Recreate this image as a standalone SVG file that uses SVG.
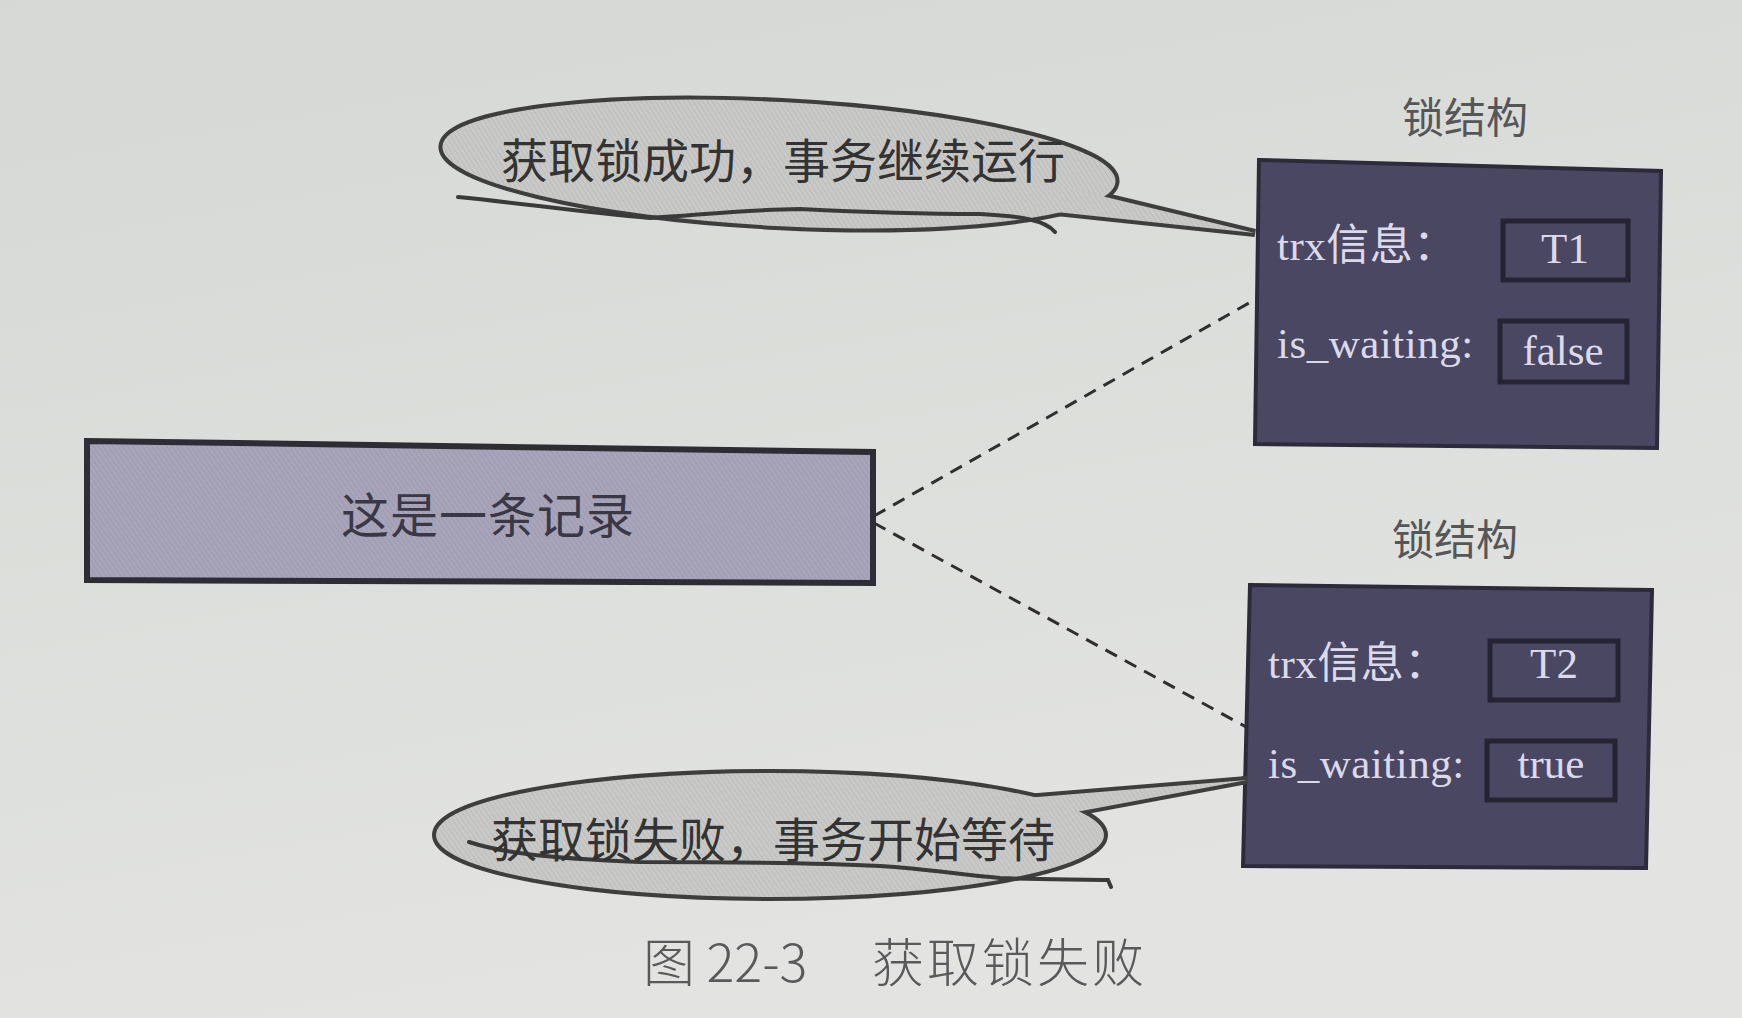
<svg xmlns="http://www.w3.org/2000/svg" width="1742" height="1018" viewBox="0 0 1742 1018">
  <defs>
    <linearGradient id="bg" x1="0" y1="0" x2="0.3" y2="1">
      <stop offset="0" stop-color="#d5d8d4"/>
      <stop offset="1" stop-color="#e3e4e1"/>
    </linearGradient>
    <pattern id="hatchGrey" width="4" height="4" patternUnits="userSpaceOnUse" patternTransform="rotate(-35)">
      <rect width="4" height="4" fill="#c9cac7"/>
      <line x1="0" y1="0" x2="0" y2="4" stroke="#b3b4b1" stroke-width="1.2"/>
    </pattern>
    <pattern id="hatchRec" width="4" height="4" patternUnits="userSpaceOnUse" patternTransform="rotate(-35)">
      <rect width="4" height="4" fill="#a8a5ba"/>
      <line x1="0" y1="0" x2="0" y2="4" stroke="#9592a8" stroke-width="1.2"/>
    </pattern>
  </defs>
  <style>
    .cjk { font-family: "Noto Sans CJK SC", "Noto Sans", sans-serif; }
    .title { font-family: "Noto Sans CJK SC", sans-serif; font-size: 42px; fill: #555658; text-anchor: middle; }
    .lock { fill: #4a4763; stroke: #2d2b3b; stroke-width: 4; }
    .field { fill: none; stroke: #262433; stroke-width: 5; }
    .ltxt { font-family: "Liberation Serif", "Noto Sans CJK SC", serif; font-size: 43px; fill: #dcdaea; letter-spacing: 0.5px; }
    .vtxt { font-family: "Liberation Serif", serif; font-size: 43px; fill: #dcdaea; text-anchor: middle; }
    .bubble-stroke { fill: none; stroke: #3e3e3e; stroke-width: 8; }
    .bubble-fill { fill: url(#hatchGrey); stroke: none; }
    .btxt { font-family: "Noto Sans CJK SC", sans-serif; font-size: 47px; fill: #333333; text-anchor: middle; }
    .scribble { fill: none; stroke: #3a3a3a; stroke-width: 4; stroke-linecap: round; }
    .conn { fill: none; stroke: #2f2f2f; stroke-width: 3; stroke-dasharray: 13 9; }
    .cap { font-family: "Noto Sans CJK SC", sans-serif; font-size: 52px; fill: #58595b; font-weight: 300; }
  </style>

  <rect x="0" y="0" width="1742" height="1018" fill="url(#bg)"/>

  <g id="connectors">
    <line class="conn" x1="874" y1="516" x2="1256" y2="299"/>
    <line class="conn" x1="874" y1="523" x2="1248" y2="728"/>
  </g>

  <g id="record">
    <polygon points="87,441 873,452 873,583 87,580" fill="url(#hatchRec)" stroke="#2e2d35" stroke-width="6"/>
    <text class="cjk" x="488" y="533" font-size="48" fill="#3a3845" text-anchor="middle" letter-spacing="1">这是一条记录</text>
  </g>

  <g id="lock1">
    <text class="title" x="1465" y="133">锁结构</text>
    <polygon class="lock" points="1259,160 1661,171 1657,448 1255,444"/>
    <text class="ltxt" x="1277" y="260">trx信息：</text>
    <rect class="field" x="1503" y="221" width="125" height="59"/>
    <text class="vtxt" x="1565" y="263">T1</text>
    <text class="ltxt" x="1277" y="358">is_waiting:</text>
    <rect class="field" x="1500" y="321" width="127" height="61"/>
    <text class="vtxt" x="1563" y="365">false</text>
  </g>

  <g id="lock2">
    <text class="title" x="1455" y="555">锁结构</text>
    <polygon class="lock" points="1250,585 1652,590 1646,868 1243,866"/>
    <text class="ltxt" x="1268" y="678">trx信息：</text>
    <rect class="field" x="1490" y="641" width="128" height="59"/>
    <text class="vtxt" x="1554" y="678">T2</text>
    <text class="ltxt" x="1268" y="778">is_waiting:</text>
    <rect class="field" x="1487" y="741" width="128" height="59"/>
    <text class="vtxt" x="1551" y="778">true</text>
  </g>

  <g id="callout-success">
    <ellipse class="bubble-stroke" cx="779" cy="164" rx="337" ry="62" transform="rotate(3 779 164)"/>
    <polygon class="bubble-stroke" points="1060,186 1255,233 1000,206"/>
    <ellipse class="bubble-fill" cx="779" cy="164" rx="337" ry="62" transform="rotate(3 779 164)"/>
    <polygon class="bubble-fill" points="1060,186 1255,233 1000,206"/>
    <path class="scribble" d="M458,197 C520,203 580,212 650,218 C700,215 740,210 800,209 C860,212 920,214 980,214 C1020,216 1045,220 1055,232"/>
    <text class="btxt" x="783" y="178">获取锁成功，事务继续运行</text>
  </g>

  <g id="callout-fail">
    <ellipse class="bubble-stroke" cx="770" cy="835" rx="334" ry="62"/>
    <polygon class="bubble-stroke" points="1000,800 1247,780 1060,815"/>
    <ellipse class="bubble-fill" cx="770" cy="835" rx="334" ry="62"/>
    <polygon class="bubble-fill" points="1000,800 1247,780 1060,815"/>
    <path class="scribble" d="M469,842 C500,852 540,858 640,862 C720,862 800,862 880,866 C930,869 960,875 1000,878 C1040,880 1080,879 1108,880 L1111,887"/>
    <text class="btxt" x="773" y="857">获取锁失败，事务开始等待</text>
  </g>

  <g id="caption">
    <text class="cap" x="643" y="982">图 22-3</text>
    <text class="cap" x="872" y="982" textLength="272" lengthAdjust="spacing">获取锁失败</text>
  </g>
</svg>
